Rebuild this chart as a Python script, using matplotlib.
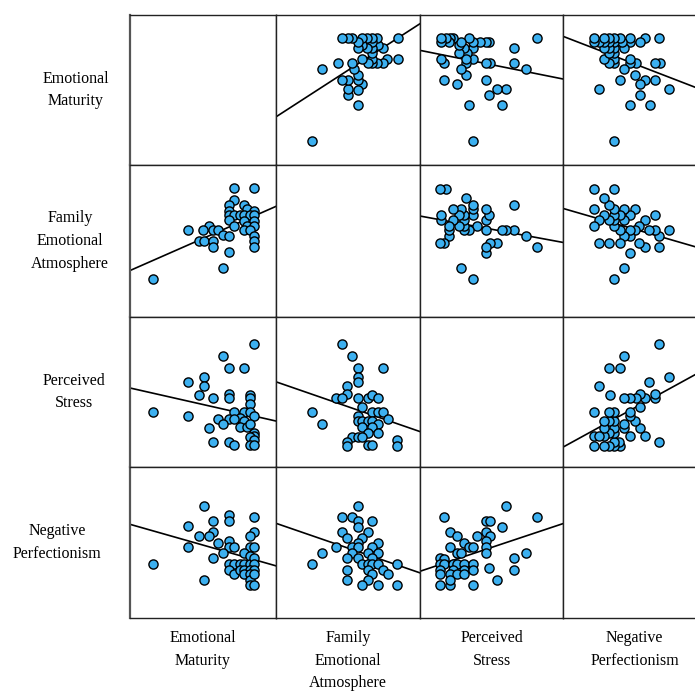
import matplotlib
matplotlib.use("Agg")
import matplotlib.pyplot as plt
import numpy as np

names = ["Emotional\nMaturity", "Family\nEmotional\nAtmosphere",
         "Perceived\nStress", "Negative\nPerfectionism"]

# values, each variable on a 0-100 panel scale
# (Emotional Maturity, Family Emotional Atmosphere)
em_fam = [(71, 85), (85, 85), (71, 77), (68, 74), (78, 74), (68, 70), (80, 71), (85, 70),
          (68, 67), (71, 67), (75, 67), (78, 67), (82, 67), (85, 67), (68, 64), (78, 63),
          (85, 63), (71, 60), (80, 60), (85, 60), (54, 60), (40, 57), (50, 57), (57, 57),
          (60, 57), (78, 57), (82, 57), (64, 54), (68, 53), (85, 53), (47, 50), (51, 50),
          (57, 50), (85, 50), (57, 46), (85, 46), (68, 43), (64, 32), (16, 25)]
# (Emotional Maturity, Perceived Stress)
em_ps = [(85, 82), (64, 74), (68, 66), (78, 66), (40, 57), (51, 60), (51, 54), (47, 48),
         (57, 46), (68, 49), (68, 46), (82, 48), (82, 46), (82, 42), (16, 37), (40, 34),
         (71, 37), (78, 37), (82, 37), (85, 34), (68, 32), (75, 33), (78, 31), (71, 32),
         (60, 32), (64, 29), (54, 26), (75, 27), (80, 27), (82, 29), (85, 23), (85, 21),
         (82, 20), (85, 18), (57, 17), (68, 17), (71, 15), (82, 15), (85, 15)]
# (Emotional Maturity, Negative Perfectionism)
em_np = [(51, 74), (68, 68), (68, 64), (85, 67), (40, 61), (57, 64), (57, 57), (54, 54),
         (47, 54), (85, 57), (82, 54), (60, 50), (68, 51), (68, 47), (71, 47), (40, 47),
         (82, 47), (85, 47), (57, 40), (64, 43), (78, 43), (82, 41), (16, 36), (68, 36),
         (71, 36), (75, 36), (78, 36), (82, 36), (85, 40), (85, 36), (68, 32), (71, 29),
         (75, 32), (78, 32), (82, 32), (85, 32), (51, 25), (78, 29), (82, 29), (82, 25),
         (85, 29), (82, 22), (85, 22)]
# (Family Emotional Atmosphere, Perceived Stress)
fam_ps = [(46, 82), (53, 74), (57, 66), (74, 66), (57, 60), (57, 57), (49, 54), (49, 49),
          (42, 46), (46, 46), (57, 46), (64, 46), (67, 48), (71, 46), (60, 40), (25, 37),
          (32, 29), (57, 34), (67, 37), (71, 37), (74, 37), (78, 32), (57, 31), (60, 31),
          (64, 31), (67, 31), (71, 29), (60, 27), (67, 27), (64, 23), (71, 23), (53, 20),
          (57, 20), (60, 20), (49, 17), (49, 14), (64, 15), (67, 15), (84, 18), (84, 14)]
# (Family Emotional Atmosphere, Negative Perfectionism)
fam_np = [(57, 74), (46, 67), (53, 67), (57, 64), (57, 60), (67, 64), (46, 57), (49, 53),
          (64, 57), (60, 53), (57, 50), (71, 50), (42, 47), (53, 47), (57, 47), (67, 47),
          (32, 43), (53, 43), (64, 43), (71, 43), (25, 36), (49, 40), (57, 40), (67, 40),
          (60, 36), (64, 36), (67, 36), (71, 36), (84, 36), (49, 32), (64, 32), (74, 32),
          (67, 29), (78, 29), (49, 25), (64, 25), (60, 22), (71, 22), (84, 22)]
# (Perceived Stress, Negative Perfectionism)
ps_np = [(60, 74), (17, 67), (82, 67), (46, 64), (49, 64), (57, 60), (21, 57), (46, 57),
         (26, 54), (40, 54), (49, 54), (31, 50), (46, 51), (21, 47), (34, 47), (37, 47),
         (46, 47), (26, 43), (29, 43), (46, 43), (66, 40), (74, 43), (14, 40), (17, 39),
         (14, 36), (17, 36), (23, 36), (26, 36), (31, 36), (37, 36), (48, 33), (66, 32),
         (14, 32), (23, 32), (31, 32), (37, 32), (14, 29), (21, 29), (26, 29), (31, 29),
         (54, 25), (14, 22), (21, 22), (21, 25), (37, 22)]

pairs = {(0, 1): em_fam, (0, 2): em_ps, (0, 3): em_np,
         (1, 2): fam_ps, (1, 3): fam_np, (2, 3): ps_np}

W, H = 695, 694
col_edges = [130, 276, 420, 563, 706]
row_edges = [15, 165, 317, 467, 618]

fig = plt.figure(figsize=(W / 100, H / 100), dpi=100)
plt.rcParams['font.family'] = ['Liberation Serif', 'DejaVu Serif']

for r in range(4):
    for c in range(4):
        x0, x1 = col_edges[c], col_edges[c + 1]
        y0, y1 = row_edges[r], row_edges[r + 1]
        ax = fig.add_axes([x0 / W, 1 - y1 / H, (x1 - x0) / W, (y1 - y0) / H])
        ax.set_xlim(0, 100)
        ax.set_ylim(0, 100)
        ax.set_xticks([])
        ax.set_yticks([])
        for s in ax.spines.values():
            s.set_linewidth(1.0)
            s.set_color('#222222')
        if c == 0:
            ax.spines['left'].set_linewidth(1.6)
            ax.spines['left'].set_color('#555555')
        if r == c:
            continue
        if r < c:
            pts = np.array(pairs[(r, c)])
            xs, ys = pts[:, 1], pts[:, 0]
        else:
            pts = np.array(pairs[(c, r)])
            xs, ys = pts[:, 0], pts[:, 1]
        k, b = np.polyfit(xs, ys, 1)
        ax.plot([0, 100], [b, b + 100 * k], color='black', lw=1.2, zorder=1)
        ax.plot(xs, ys, 'o', color='#3CB0F0', markeredgecolor='black',
                markeredgewidth=1.0, markersize=6.6, zorder=2)

row_label_x = [76, 70, 74, 57]
for r in range(4):
    yc = (row_edges[r] + row_edges[r + 1]) / 2
    fig.text(row_label_x[r] / W, 1 - yc / H, names[r], ha='center', va='center',
             fontsize=11.5, linespacing=1.55)

for c in range(4):
    xc = (col_edges[c] + col_edges[c + 1]) / 2
    fig.text(xc / W, 1 - 630 / H, names[c], ha='center', va='top',
             fontsize=11.5, linespacing=1.55)

fig.savefig('out.png', dpi=100)
